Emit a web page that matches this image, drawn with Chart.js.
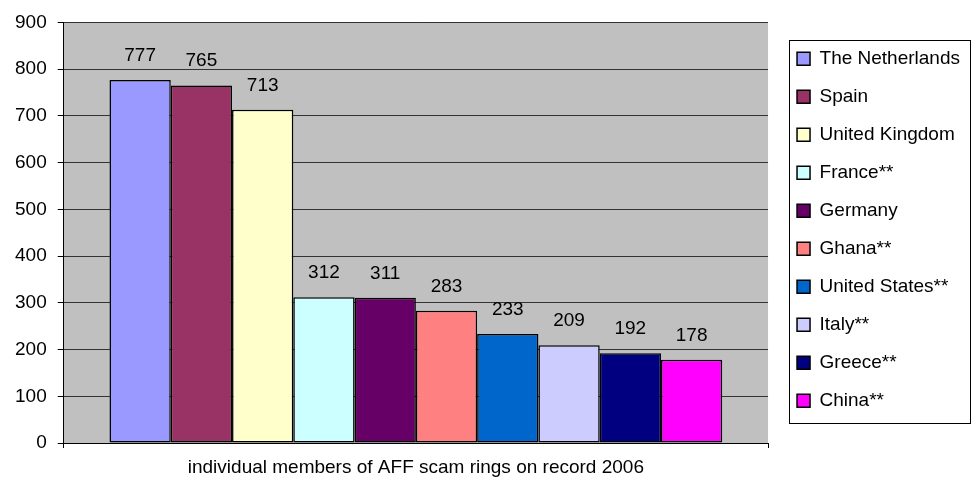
<!DOCTYPE html>
<html>
<head>
<meta charset="utf-8">
<script src="https://cdn.jsdelivr.net/npm/chart.js@4/dist/chart.umd.min.js"></script>
<style>
  html, body { margin: 0; padding: 0; background: #fff; }
  #wrap { width: 972px; height: 483px; }
</style>
</head>
<body>
<div id="wrap"><canvas id="scamChart" width="972" height="483"></canvas></div>
<script>
const category = 'individual members of AFF scam rings on record 2006';
const countries = ['The Netherlands', 'Spain', 'United Kingdom', 'France**', 'Germany',
  'Ghana**', 'United States**', 'Italy**', 'Greece**', 'China**'];
const members = [777, 765, 713, 312, 311, 283, 233, 209, 192, 178];
const barColours = ['#9999FF', '#993366', '#FFFFCC', '#CCFFFF', '#660066',
  '#FF8080', '#0066CC', '#CCCCFF', '#000080', '#FF00FF'];
const yTicks = [0, 100, 200, 300, 400, 500, 600, 700, 800, 900];

const FONT = '"Liberation Sans", Arial, sans-serif';
const FONT_SIZE = 19;

// grey plot background, like the old office charts
const plotBackground = {
  id: 'plotBackground',
  beforeDraw(chart) {
    const { ctx, chartArea: a } = chart;
    ctx.save();
    ctx.fillStyle = '#C0C0C0';
    ctx.fillRect(a.left, a.top, a.right - a.left, a.bottom - a.top);
    ctx.restore();
  }
};

// push the legend a little away from the plot and nudge it up
const legendGap = {
  id: 'legendGap',
  afterLayout(chart) {
    const lg = chart.legend;
    lg.left += 10;
    lg.right += 10;
    lg.top -= 3;
    lg.bottom -= 3;
  }
};

// value printed above every bar
const valueLabels = {
  id: 'valueLabels',
  afterDatasetsDraw(chart) {
    const ctx = chart.ctx;
    ctx.save();
    ctx.font = FONT_SIZE + 'px ' + FONT;
    ctx.fillStyle = '#000';
    ctx.textAlign = 'center';
    ctx.textBaseline = 'alphabetic';
    chart.data.datasets.forEach((ds, i) => {
      const bar = chart.getDatasetMeta(i).data[0];
      ctx.fillText(String(ds.data[0]), bar.x, bar.y - 19);
    });
    ctx.restore();
  }
};

// frame round the legend
const legendFrame = {
  id: 'legendFrame',
  afterDraw(chart) {
    const boxes = chart.legend.legendHitBoxes;
    if (!boxes || !boxes.length) return;
    const first = boxes[0], last = boxes[boxes.length - 1];
    const ctx = chart.ctx;
    ctx.save();
    ctx.strokeStyle = '#000';
    ctx.lineWidth = 1;
    const left = Math.round(first.left - 8) + 0.5;
    const top = Math.round(first.top - 9) + 0.5;
    const bottom = Math.round(last.top + last.height + 13) + 0.5;
    ctx.strokeRect(left, top, chart.width - 1.5 - left, bottom - top);
    ctx.restore();
  }
};

const ctx = document.getElementById('scamChart').getContext('2d');
new Chart(ctx, {
  type: 'bar',
  data: {
    labels: [category],
    datasets: countries.map((name, i) => ({
      label: name,
      data: [members[i]],
      backgroundColor: barColours[i],
      borderColor: '#000',
      borderWidth: 1.5,
      borderSkipped: false
    }))
  },
  options: {
    responsive: false,
    animation: false,
    devicePixelRatio: 1,
    layout: { padding: { left: 4, top: 20, right: 12, bottom: 0 } },
    datasets: { bar: { categoryPercentage: 0.87, barPercentage: 1 } },
    plugins: {
      legend: {
        position: 'right',
        align: 'center',
        fullSize: false,
        labels: {
          font: { family: FONT, size: FONT_SIZE },
          color: '#000',
          boxWidth: 13,
          boxHeight: 13,
          padding: 19
        }
      },
      title: { display: false },
      tooltip: { enabled: false }
    },
    scales: {
      x: {
        offset: true,
        grid: { offset: true, drawOnChartArea: false, tickLength: 5, tickColor: '#000' },
        border: { color: '#000', width: 1 },
        ticks: { font: { family: FONT, size: FONT_SIZE }, color: '#000', padding: 8 },
        afterFit(axis) { axis.height = 40; }
      },
      y: {
        min: 0,
        max: 900,
        afterBuildTicks(axis) { axis.ticks = yTicks.map(v => ({ value: v })); },
        grid: { color: '#333', tickLength: 6, tickColor: '#000' },
        border: { color: '#000', width: 1 },
        ticks: { font: { family: FONT, size: FONT_SIZE }, color: '#000', padding: 11 }
      }
    }
  },
  plugins: [plotBackground, legendGap, valueLabels, legendFrame]
});
</script>
</body>
</html>
